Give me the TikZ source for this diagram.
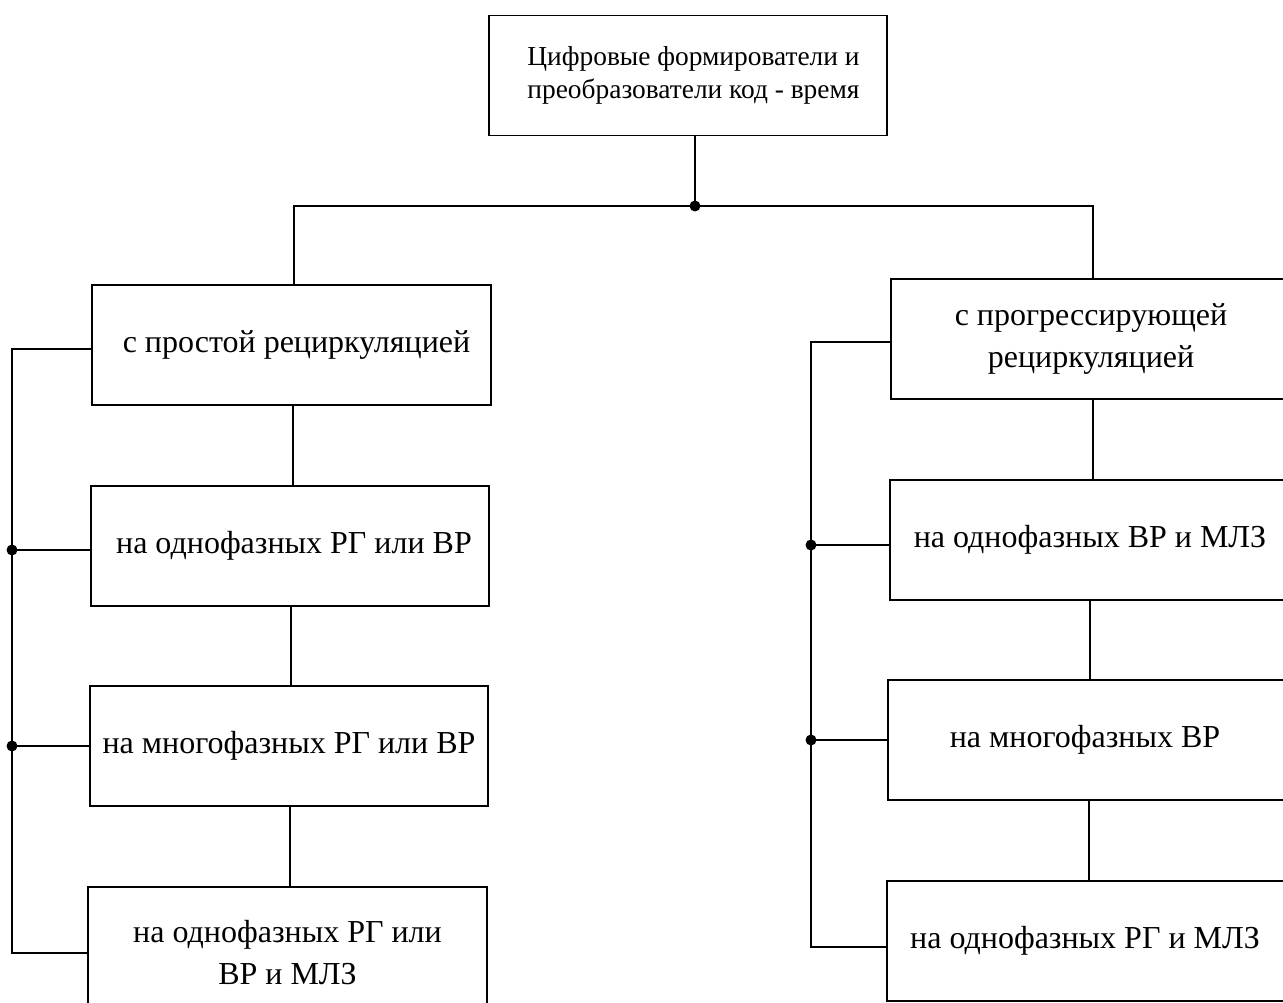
\documentclass[tikz,border=0pt]{standalone}
\usepackage{fontspec}
\setmainfont{Liberation Serif}
\begin{document}
\begin{tikzpicture}[x=1pt,y=-1pt,
  box/.style={draw, line width=1.4pt, rectangle, minimum width=398pt, minimum height=120pt,
    inner sep=0pt, align=center, font=\fontsize{32}{42}\selectfont},
  topbox/.style={box, font=\fontsize{27.4}{33}\selectfont},
  ln/.style={line width=1.4pt},
  dot/.style={circle, fill, inner sep=0pt, minimum size=11pt}]
\useasboundingbox (0,0) rectangle (1283,1003);
\clip (0,0) rectangle (1283,1003);
\fill[white] (0,0) rectangle (1283,1003);
% top
\node[topbox] (top) at (688,75.5) {\hspace*{11pt}Цифровые формирователи и\\\hspace*{11pt}преобразователи код - время};
% left column
\node[box, minimum width=399pt] (L1) at (291.5,345) {\hspace*{10pt}с простой рециркуляцией};
\node[box] (L2) at (290,546) {\hspace*{8pt}на однофазных РГ или ВР};
\node[box] (L3) at (289,746) {на многофазных РГ или ВР};
\node[box, minimum width=399pt, minimum height=132pt] (L4) at (287.5,953) {на однофазных РГ или\\ВР и МЛЗ};
% right column
\node[box, minimum width=400pt] (R1) at (1091,339) {с прогрессирующей\\рециркуляцией};
\node[box, minimum width=400pt] (R2) at (1090,540) {на однофазных ВР и МЛЗ};
\node[box, minimum width=400pt] (R3) at (1088,740) {на многофазных ВР\hspace*{6pt}};
\node[box, minimum width=400pt] (R4) at (1087,941) {на однофазных РГ и МЛЗ\hspace*{4pt}};
% junction
\coordinate (j) at (695,206);
\coordinate (lb) at (12,0);
\coordinate (rb) at (811,0);
\draw[ln] (j |- top.south) -- (j);
\draw[ln] ([xshift=2.5pt]L1.north) |- (j) -| ([xshift=2pt]R1.north);
\node[dot] (jd) at (j) {};
% left chain
\draw[ln] ([xshift=1.5pt]L1.south) -- ([xshift=1.5pt]L1.south |- L2.north);
\draw[ln] ([xshift=1pt]L2.south) -- ([xshift=1pt]L2.south |- L3.north);
\draw[ln] ([xshift=1pt]L3.south) -- ([xshift=1pt]L3.south |- L4.north);
\draw[ln] ([yshift=-4pt]L1.west) -| (lb |- L4.west) -- (L4.west);
\draw[ln] ([yshift=-4pt]L2.west) -- ([yshift=-4pt]L2.west -| lb);
\draw[ln] (L3.west) -- (L3.west -| lb);
\node[dot] (ld1) at ([yshift=-4pt]L2.west -| lb) {};
\node[dot] (ld2) at (L3.west -| lb) {};
% right chain
\draw[ln] ([xshift=2pt]R1.south) -- ([xshift=2pt]R1.south |- R2.north);
\draw[ln] (R2.south) -- (R2.south |- R3.north);
\draw[ln] ([xshift=1pt]R3.south) -- ([xshift=1pt]R3.south |- R4.north);
\draw[ln] ([yshift=-3pt]R1.west) -| ([yshift=-6pt]rb |- R4.west) -- ([yshift=-6pt]R4.west);
\draw[ln] ([yshift=-5pt]R2.west) -- ([yshift=-5pt]R2.west -| rb);
\draw[ln] (R3.west) -- (R3.west -| rb);
\node[dot] (rd1) at ([yshift=-5pt]R2.west -| rb) {};
\node[dot] (rd2) at (R3.west -| rb) {};
\end{tikzpicture}
\end{document}
